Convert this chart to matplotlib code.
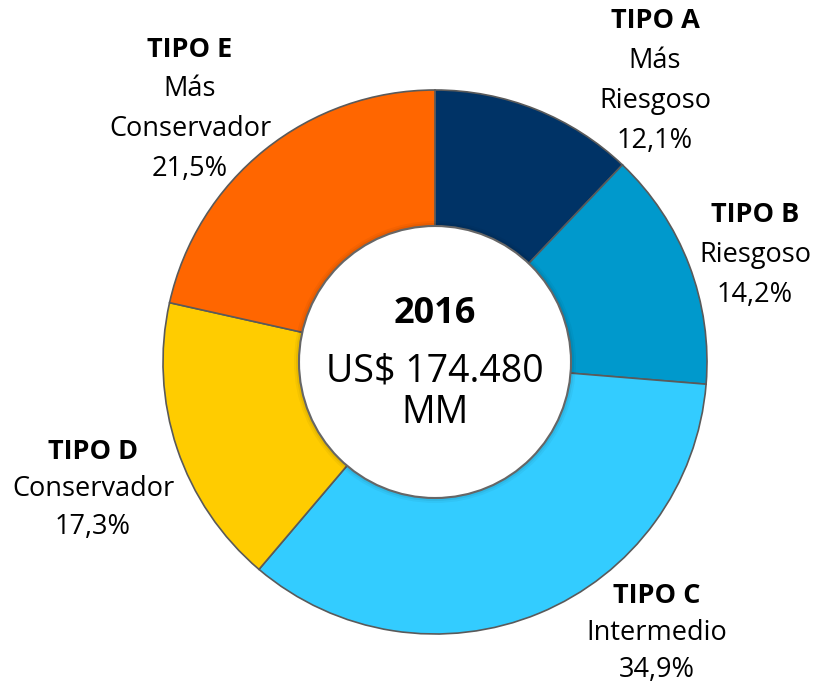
import matplotlib.pyplot as plt
from matplotlib.patches import Circle

# Fondos de pensiones por tipo, 2016
tipos = ["TIPO A", "TIPO B", "TIPO C", "TIPO D", "TIPO E"]
perfiles = [["Más", "Riesgoso"], ["Riesgoso"], ["Intermedio"], ["Conservador"], ["Más", "Conservador"]]
porcentajes = [12.1, 14.2, 34.9, 17.3, 21.5]
colores = ["#003366", "#0099CC", "#33CCFF", "#FFCC00", "#FF6600"]
total_txt = ["US$ 174.480", "MM"]
anio = "2016"

plt.rcParams['font.family'] = ['Open Sans', 'DejaVu Sans']

fig = plt.figure(figsize=(8.21, 6.84), dpi=100)
ax = fig.add_axes([0, 0, 1, 1])

cx, cy, r = 435, 362, 272
# y axis is inverted below, so start at -90 and go "counterclock" to get clockwise from top
ax.pie(porcentajes, colors=colores, startangle=-90, counterclock=True,
       center=(cx, cy), radius=r, frame=True,
       wedgeprops=dict(edgecolor="#5a5a5a", linewidth=1.2))
ax.set_xlim(0, 821)
ax.set_ylim(684, 0)
ax.set_aspect('equal')
ax.axis('off')

# hole with a soft shadow
for i, a in enumerate([0.04, 0.06, 0.08]):
    ax.add_patch(Circle((cx, cy), 136 + 5 - i * 2, facecolor="black", alpha=a, edgecolor="none", zorder=3))
ax.add_patch(Circle((cx, cy), 136, facecolor="white", edgecolor="#666666", linewidth=1.5, zorder=4))

ax.text(cx, 314, anio, ha='center', va='center', fontsize=26, fontweight='bold', zorder=5)
ax.text(cx, 371, total_txt[0], ha='center', va='center', fontsize=27, zorder=5)
ax.text(cx, 413, total_txt[1], ha='center', va='center', fontsize=27, zorder=5)

# label positions (pixel coords of the first line, line step)
pos = [(655, 21, 40), (755, 215, 40), (657, 596, 37), (93, 452, 37.5), (190, 50, 39.5)]
for t, p, v, (x, y, step) in zip(tipos, perfiles, porcentajes, pos):
    lines = [t] + p + [f"{v:.1f}%".replace(".", ",")]
    for k, s in enumerate(lines):
        ax.text(x, y + k * step, s, ha='center', va='center', fontsize=19.5,
                fontweight='bold' if k == 0 else 'normal')

fig.savefig("out.png", dpi=100)
